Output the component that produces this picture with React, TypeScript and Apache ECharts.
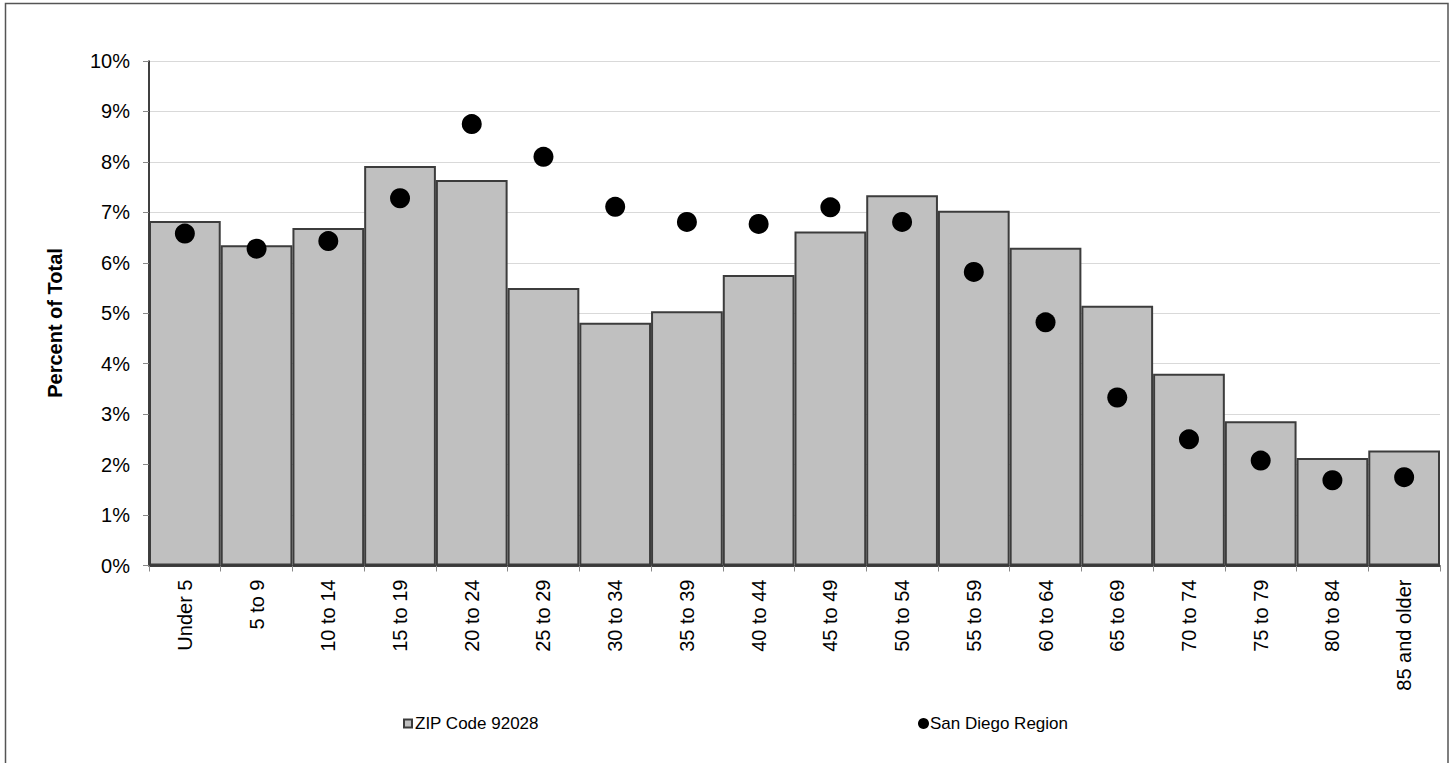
import React, { useEffect, useRef } from "react";
import * as echarts from "echarts";

const categories = [
  "Under 5", "5 to 9", "10 to 14", "15 to 19", "20 to 24", "25 to 29",
  "30 to 34", "35 to 39", "40 to 44", "45 to 49", "50 to 54", "55 to 59",
  "60 to 64", "65 to 69", "70 to 74", "75 to 79", "80 to 84", "85 and older",
];
const zipValues = [
  6.83, 6.35, 6.69, 7.92, 7.64, 5.50, 4.81, 5.04, 5.76, 6.62, 7.34, 7.03,
  6.30, 5.15, 3.80, 2.86, 2.13, 2.28,
];
const regionValues = [
  6.58, 6.28, 6.43, 7.28, 8.75, 8.10, 7.11, 6.81, 6.77, 7.10, 6.81, 5.82,
  4.82, 3.33, 2.50, 2.08, 1.69, 1.75,
];
const zipName = "ZIP Code 92028";
const regionName = "San Diego Region";
const yTitle = "Percent of Total";

const FONT = "'Liberation Sans', Arial, sans-serif";

export default function App() {
  const ref = useRef<HTMLDivElement>(null);
  useEffect(() => {
    document.body.style.margin = "0";
    if (!ref.current) return;
    const chart = echarts.init(ref.current, null, { renderer: "svg" });
    chart.setOption({
      animation: false,
      backgroundColor: "#ffffff",
      textStyle: { fontFamily: FONT, color: "#000" },
      grid: { left: 149, right: 13, top: 61, bottom: 197.5, containLabel: false },
      legend: [
        {
          data: [{ name: zipName, icon: "rect" }],
          left: 403,
          top: 715,
          itemWidth: 8,
          itemHeight: 8,
          padding: 0,
          textStyle: { fontFamily: FONT, fontSize: 17, color: "#000", padding: [0, 0, 0, -2] },
        },
        {
          data: [{ name: regionName, icon: "circle" }],
          left: 918,
          top: 715,
          itemWidth: 11,
          itemHeight: 11,
          padding: 0,
          textStyle: { fontFamily: FONT, fontSize: 17, color: "#000", padding: [0, 0, 0, -4] },
        },
      ],
      xAxis: {
        type: "category",
        data: categories,
        boundaryGap: true,
        axisLine: { lineStyle: { color: "#000", width: 1.5 } },
        axisTick: { show: true, length: 6, lineStyle: { color: "#888" } },
        axisLabel: {
          rotate: 90,
          margin: 14,
          fontSize: 20,
          fontFamily: FONT,
          color: "#000",
          interval: 0,
        },
      },
      yAxis: {
        type: "value",
        min: 0,
        max: 10,
        interval: 1,
        axisLine: { show: true, lineStyle: { color: "#000", width: 1.5 } },
        axisTick: { show: true, length: 6, lineStyle: { color: "#888" } },
        axisLabel: {
          formatter: "{value}%",
          fontSize: 20,
          fontFamily: FONT,
          color: "#000",
          margin: 19,
        },
        splitLine: { show: true, lineStyle: { color: "#d9d9d9", width: 1 } },
      },
      series: [
        {
          name: zipName,
          type: "bar",
          data: zipValues,
          barCategoryGap: "0%",
          itemStyle: { color: "#c0c0c0", borderColor: "#3c3c3c", borderWidth: 2 },
        },
        {
          name: regionName,
          type: "scatter",
          data: regionValues,
          symbol: "circle",
          symbolSize: 20,
          itemStyle: { color: "#000", opacity: 1 },
          z: 5,
        },
      ],
      graphic: [
        {
          type: "rect",
          shape: { x: 5.5, y: 3.5, width: 1442.5, height: 762 },
          style: { fill: "none", stroke: "#555", lineWidth: 1.5 },
          silent: true,
        },
        {
          type: "text",
          x: 55,
          y: 323,
          rotation: Math.PI / 2,
          style: {
            text: yTitle,
            fontFamily: FONT,
            fontSize: 20,
            fontWeight: "bold",
            fill: "#000",
            align: "center",
            verticalAlign: "middle",
          },
        },
      ],
    });
    return () => chart.dispose();
  }, []);
  return <div ref={ref} style={{ width: 1453, height: 763 }} />;
}
